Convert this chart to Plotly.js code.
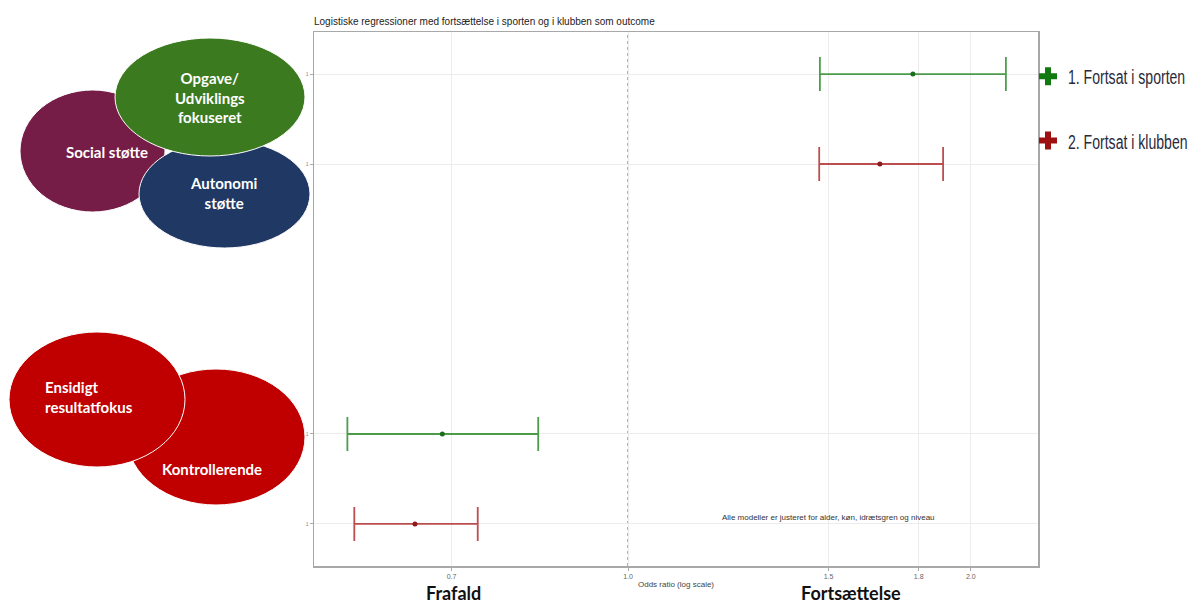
<!DOCTYPE html>
<html>
<head>
<meta charset="utf-8">
<script src="https://cdn.plot.ly/plotly-3.0.1.min.js"></script>
<style>
html,body{margin:0;padding:0;background:#fff;}
#chart{width:1201px;height:606px;}
</style>
</head>
<body>
<div id="chart"></div>
<script>
// ---- data ----
const seriesNames = ["1. Fortsat i sporten", "2. Fortsat i klubben"];
const rowsSporten = [1, 5];
const orSporten = [1.779, 0.687];
const lowSporten = [1.474, 0.567];
const highSporten = [2.147, 0.834];
const rowsKlubben = [2, 6];
const orKlubben = [1.664, 0.650];
const lowKlubben = [1.472, 0.575];
const highKlubben = [1.891, 0.738];
const xTickVals = [0.7, 1.0, 1.5, 1.8, 2.0];
const xTickText = ["0.7", "1.0", "1.5", "1.8", "2.0"];
const yTickVals = [1, 2, 5, 6];
const yTickText = ["1", "1", "1", "1"];
const refLine = 1.0;

// ---- layout helpers (pixel -> paper) ----
const L = 314, R = 1038, T = 32, B = 566;
const px = x => (x - L) / (R - L);
const py = y => (B - y) / (B - T);

function errTrace(name, rows, or, low, high, lineCol, ptCol) {
  return {
    type: 'scatter', mode: 'markers', name: name, showlegend: false,
    x: or, y: rows,
    marker: {size: 5, color: ptCol},
    error_x: {type: 'data', symmetric: false,
      array: high.map((h, i) => h - or[i]),
      arrayminus: low.map((l, i) => or[i] - l),
      color: lineCol, thickness: 1.8, width: 17},
    hoverinfo: 'x+y'
  };
}
const traces = [
  errTrace(seriesNames[0], rowsSporten, orSporten, lowSporten, highSporten, 'rgba(46,140,46,0.85)', '#1b6e1b'),
  errTrace(seriesNames[1], rowsKlubben, orKlubben, lowKlubben, highKlubben, 'rgba(176,48,48,0.85)', '#8e1a1a'),
  {type: 'scatter', mode: 'markers', name: seriesNames[0], x: [null], y: [null], legendgroup: 'a',
   marker: {symbol: 'cross', size: 15, color: '#107a10'}},
  {type: 'scatter', mode: 'markers', name: seriesNames[1], x: [null], y: [null], legendgroup: 'b',
   marker: {symbol: 'cross', size: 15, color: '#9e0f0f'}}
];

function ell(x0, x1, y0, y1, color) {
  return {type: 'circle', xref: 'paper', yref: 'paper', layer: 'above',
    x0: px(x0), x1: px(x1), y0: py(y1), y1: py(y0),
    fillcolor: color, line: {color: '#ffffff', width: 1}};
}
const shapes = [
  {type: 'line', xref: 'x', yref: 'paper', x0: refLine, x1: refLine, y0: 0, y1: 1,
   line: {color: '#9a9a9a', width: 1.5, dash: 'dot'}, layer: 'below'},
  ell(20, 165, 90, 212, '#761d47'),
  ell(139, 310, 140, 248, '#1f3864'),
  ell(115, 305, 38, 156, '#3b7a1f'),
  ell(127, 305, 369, 505, '#c00000'),
  ell(9, 185, 332, 467, '#c00000')
];

const bubbleFont = {family: 'Lato, "Open Sans", sans-serif', size: 15, color: '#ffffff', weight: 700};
function ann(text, x, y, extra) {
  return Object.assign({xref: 'paper', yref: 'paper', x: px(x), y: py(y), text: text,
    showarrow: false, xanchor: 'center', yanchor: 'middle', font: bubbleFont}, extra || {});
}
const bigFont = {family: 'Lato, "Open Sans", sans-serif', size: 18, color: '#111111'};
const annotations = [
  ann('<b>Social støtte</b>', 107, 152),
  ann('<b>Opgave/<br>Udviklings<br>fokuseret</b>', 210, 98),
  ann('<b>Autonomi<br>støtte</b>', 223, 193),
  ann('<b>Ensidigt<br>resultatfokus</b>', 43, 397, {xanchor: 'left', align: 'left'}),
  ann('<b>Kontrollerende</b>', 212, 469),
  ann('<b>Frafald</b>', 453, 593, {font: bigFont}),
  ann('<b>Fortsættelse</b>', 851, 593, {font: bigFont}),
  ann('Alle modeller er justeret for alder, køn, idrætsgren og niveau', 828, 517,
      {font: {family: '"Liberation Sans", Arial, sans-serif', size: 8, color: '#333333'}})
];

const legendFont = {family: '"Liberation Sans", Arial, sans-serif', size: 21, color: '#2a2a3a'};
const layout = {
  width: 1201, height: 606,
  margin: {l: L, r: 1201 - R, t: T, b: 606 - B, pad: 0, autoexpand: false},
  paper_bgcolor: '#ffffff', plot_bgcolor: '#ffffff',
  title: {text: 'Logistiske regressioner med fortsættelse i sporten og i klubben som outcome',
    x: px(L), xref: 'paper', xanchor: 'left', y: 1 - 21 / 606, yref: 'container', yanchor: 'middle',
    font: {family: '"Liberation Sans", Arial, sans-serif', size: 10, color: '#222222'}},
  xaxis: {type: 'log', range: [Math.log10(0.530), Math.log10(2.291)],
    tickvals: xTickVals, ticktext: xTickText, ticks: 'outside', ticklen: 3, tickcolor: '#aaaaaa',
    tickfont: {family: '"Liberation Sans", Arial, sans-serif', size: 7, color: '#666666'},
    showgrid: true, gridcolor: '#ececec', gridwidth: 1, zeroline: false,
    showline: true, mirror: true, linecolor: '#a8a8a8', linewidth: 1.5,
    title: {text: 'Odds ratio (log scale)', standoff: 2,
      font: {family: '"Liberation Sans", Arial, sans-serif', size: 8, color: '#444444'}}},
  yaxis: {range: [6.467, 0.533], tickvals: yTickVals, ticktext: yTickText,
    ticks: 'outside', ticklen: 3, tickcolor: '#aaaaaa',
    tickfont: {family: '"Liberation Sans", Arial, sans-serif', size: 5, color: '#888888'},
    showgrid: true, gridcolor: '#ececec', gridwidth: 1, zeroline: false,
    showline: true, mirror: true, linecolor: '#a8a8a8', linewidth: 1.5},
  legend: {x: px(1028), y: py(56), xanchor: 'left', yanchor: 'top', bgcolor: 'rgba(0,0,0,0)',
    font: legendFont, traceorder: 'grouped', tracegroupgap: 34},
  shapes: shapes,
  annotations: annotations,
  showlegend: true
};
Plotly.newPlot('chart', traces, layout, {displayModeBar: false, staticPlot: true}).then(gd => {
  // condense the legend labels horizontally (reference uses a narrow face)
  gd.querySelectorAll('text.legendtext').forEach(t => {
    const x = parseFloat(t.getAttribute('x') || '0');
    t.setAttribute('transform', 'translate(' + x + ',0) scale(0.67,1) translate(' + (-x) + ',0)');
  });
  gd.querySelectorAll('g.legend [clip-path]').forEach(c => c.removeAttribute('clip-path'));
});
</script>
</body>
</html>
